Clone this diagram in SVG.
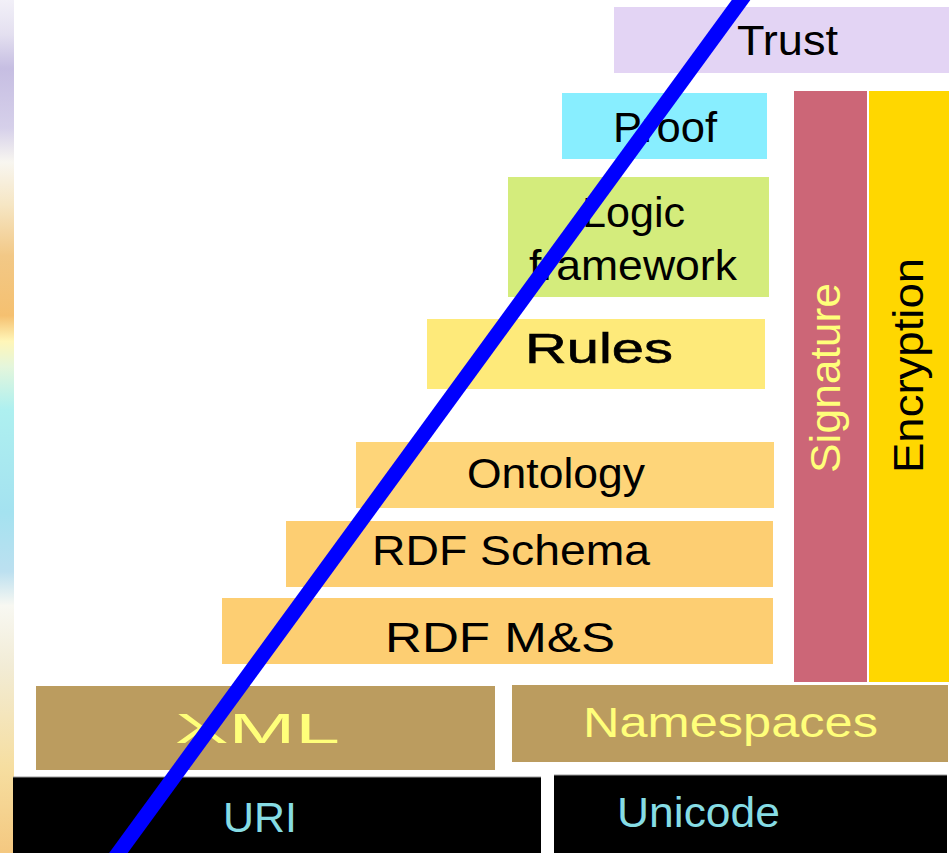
<svg xmlns="http://www.w3.org/2000/svg" width="951" height="853" viewBox="0 0 951 853">
<defs>
<linearGradient id="strip" x1="0" y1="0" x2="0" y2="1">
<stop offset="0" stop-color="#f2f0f8"/>
<stop offset="0.04" stop-color="#e4e0f0"/>
<stop offset="0.08" stop-color="#c6bee2"/>
<stop offset="0.15" stop-color="#d6d0ea"/>
<stop offset="0.19" stop-color="#f8f6f0"/>
<stop offset="0.24" stop-color="#f6e6c4"/>
<stop offset="0.30" stop-color="#f2c886"/>
<stop offset="0.37" stop-color="#f5c070"/>
<stop offset="0.40" stop-color="#fff6b8"/>
<stop offset="0.43" stop-color="#e4f6dc"/>
<stop offset="0.48" stop-color="#aef0f0"/>
<stop offset="0.60" stop-color="#a4e2f0"/>
<stop offset="0.67" stop-color="#bce0f0"/>
<stop offset="0.71" stop-color="#f8f8f2"/>
<stop offset="0.78" stop-color="#f2ecd6"/>
<stop offset="0.90" stop-color="#f6dea0"/>
<stop offset="1" stop-color="#f4c880"/>
</linearGradient>
</defs>
<style>
text{font-family:"Liberation Sans",Arial,Helvetica,sans-serif;font-size:42px;fill:#000}
.y{fill:#ffff7a}
.c{fill:#86dce4}
.brown{fill:#bb9c5f}
</style>
<rect x="0" y="0" width="951" height="853" fill="#ffffff"/>
<rect x="0" y="0" width="14" height="853" fill="url(#strip)"/>

<g id="trust"><rect x="614" y="7" width="335" height="66" fill="#e3d4f4"/><text x="737" y="55" textLength="101" lengthAdjust="spacingAndGlyphs">Trust</text></g>
<g id="proof"><rect x="562" y="93" width="205" height="66" fill="#88eeff"/><text x="613" y="142" textLength="104" lengthAdjust="spacingAndGlyphs">Proof</text></g>
<g id="signature"><rect x="794" y="91" width="73" height="591" fill="#cc6677"/><text class="y" transform="translate(840,473) rotate(-90)" textLength="190" lengthAdjust="spacingAndGlyphs">Signature</text></g>
<g id="encryption"><rect x="869" y="91" width="80" height="591" fill="#ffd700"/><text transform="translate(923,473) rotate(-90)" textLength="215" lengthAdjust="spacingAndGlyphs">Encryption</text></g>
<g id="logic"><rect x="508" y="177" width="261" height="120" fill="#d4ec7c"/><text x="582" y="227" textLength="103" lengthAdjust="spacingAndGlyphs">Logic</text><text x="529" y="280" textLength="208" lengthAdjust="spacingAndGlyphs">framework</text></g>
<g id="rules"><rect x="427" y="319" width="338" height="70" fill="#feea7a"/><text x="525" y="363" textLength="148" lengthAdjust="spacingAndGlyphs" stroke="#000" stroke-width="0.6">Rules</text></g>
<g id="ontology"><rect x="356" y="442" width="418" height="66" fill="#fed579"/><text x="467" y="488" textLength="178" lengthAdjust="spacingAndGlyphs">Ontology</text></g>
<g id="rdfschema"><rect x="286" y="521" width="487" height="66" fill="#fdce72"/><text x="372" y="565" textLength="278" lengthAdjust="spacingAndGlyphs">RDF Schema</text></g>
<g id="rdfms"><rect x="222" y="598" width="551" height="66" fill="#fdce72"/><text x="385" y="652" textLength="230" lengthAdjust="spacingAndGlyphs">RDF M&amp;S</text></g>
<g id="xml"><rect x="36" y="686" width="459" height="84" class="brown"/><text class="y" x="175" y="743" font-size="44" textLength="165" lengthAdjust="spacingAndGlyphs">XML</text></g>
<g id="namespaces"><rect x="512" y="685" width="436" height="77" class="brown"/><text class="y" x="583" y="737" textLength="295" lengthAdjust="spacingAndGlyphs">Namespaces</text></g>
<g id="uri"><rect x="13" y="777" width="528" height="76" fill="#000"/><line x1="13" y1="777" x2="541" y2="777" stroke="#999" stroke-width="1"/><text class="c" x="223" y="832" font-size="44" textLength="74" lengthAdjust="spacingAndGlyphs">URI</text></g>
<g id="unicode"><rect x="554" y="775" width="393" height="78" fill="#000"/><line x1="554" y1="775" x2="947" y2="775" stroke="#999" stroke-width="1"/><text class="c" x="617" y="827" font-size="40" textLength="163" lengthAdjust="spacingAndGlyphs">Unicode</text></g>

<g id="connectors"><line x1="106" y1="870" x2="752" y2="-15" stroke="#0000ff" stroke-width="15"/></g>
</svg>
